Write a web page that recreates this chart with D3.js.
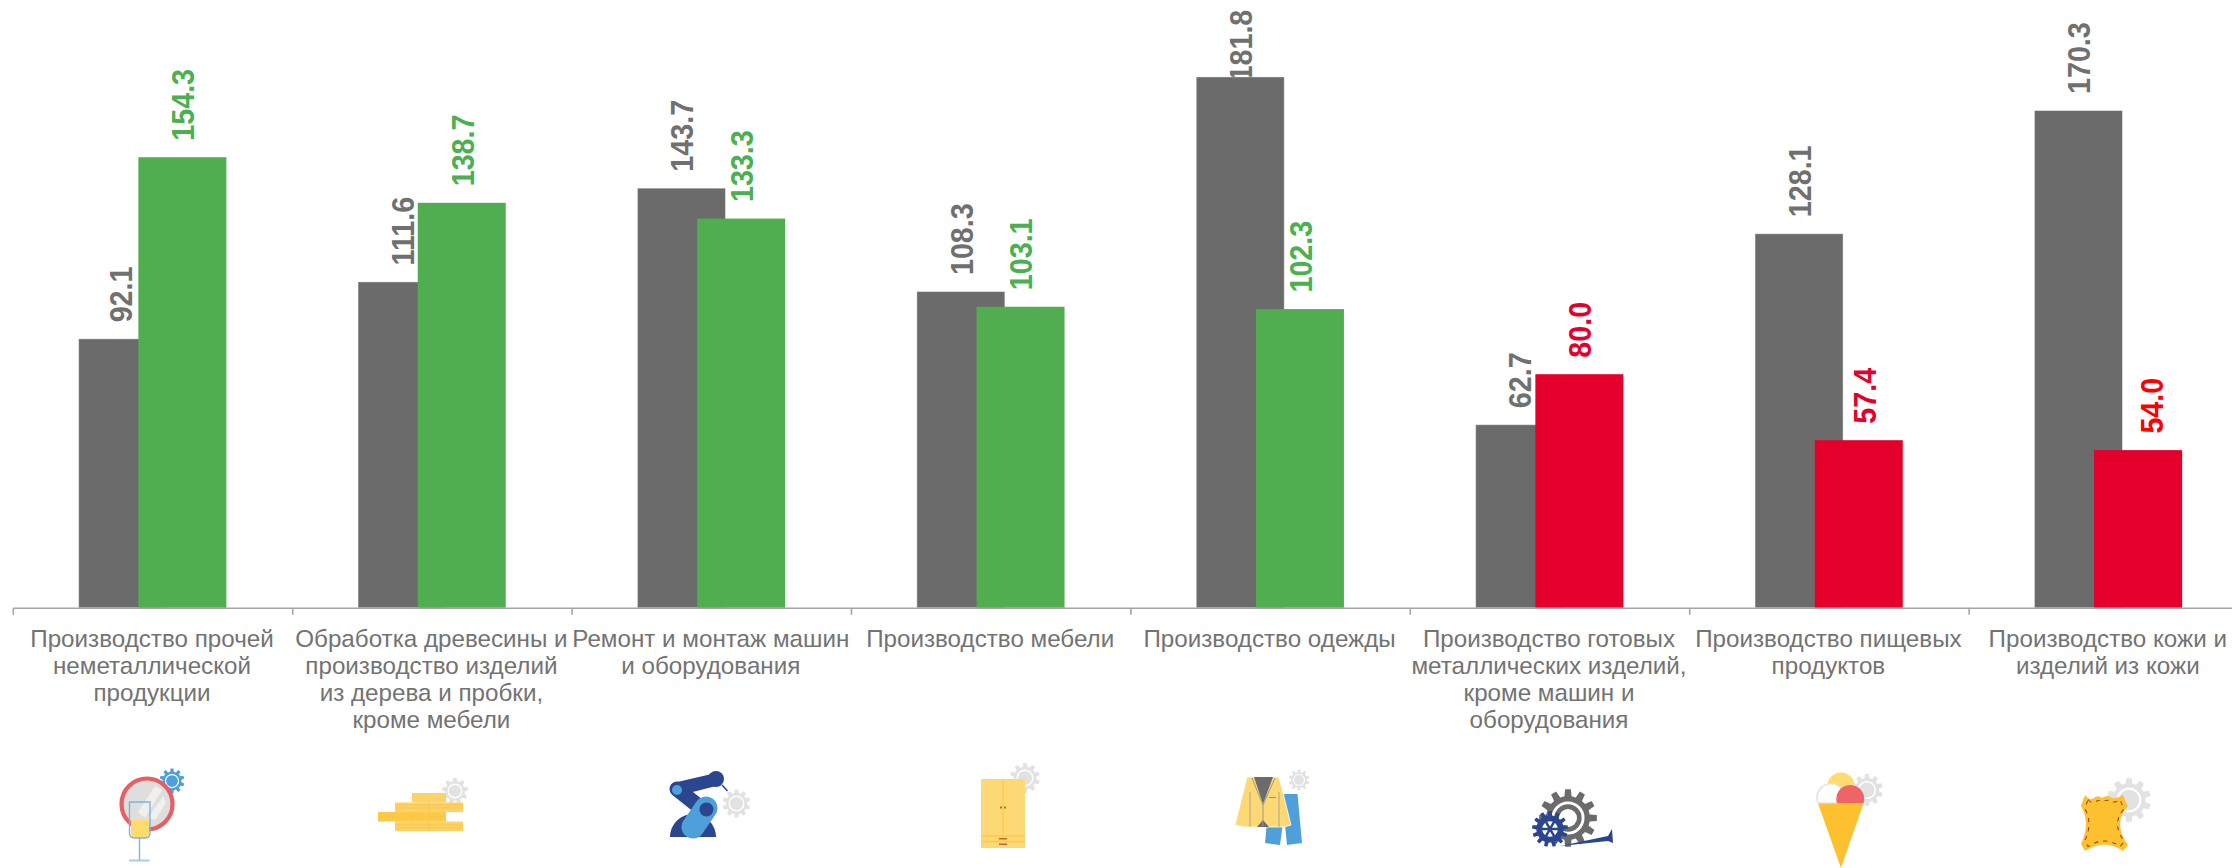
<!DOCTYPE html>
<html>
<head>
<meta charset="utf-8">
<script src="https://cdn.jsdelivr.net/npm/d3@7"></script>
<style>
html, body { margin: 0; padding: 0; background: #fff; overflow: hidden; }
svg { display: block; font-family: "Liberation Sans", Arial, sans-serif; }
</style>
</head>
<body>
<svg id="chart" width="2232" height="868"></svg>
<script>
var categories = [
	["Производство прочей", "неметаллической", "продукции"],
	["Обработка древесины и", "производство изделий", "из дерева и пробки,", "кроме мебели"],
	["Ремонт и монтаж машин", "и оборудования"],
	["Производство мебели"],
	["Производство одежды"],
	["Производство готовых", "металлических изделий,", "кроме машин и", "оборудования"],
	["Производство пищевых", "продуктов"],
	["Производство кожи и", "изделий из кожи"]
];
var previous = [92.1, 111.6, 143.7, 108.3, 181.8, 62.7, 128.1, 170.3];
var current = [154.3, 138.7, 133.3, 103.1, 102.3, 80.0, 57.4, 54.0];

var grey = "#6b6b6b", green = "#50ae50", greenText = "#4bb04f", red = "#e4002b";
var barWidth = 88, barStep = 59.7;
var baseY = 607.8;

var svg = d3.select("#chart");

var edges = d3.scaleLinear().domain([0, 8]).range([12.8, 12.8 + 8 * 279.4]);
var x = d3.scaleBand().domain(d3.range(8)).range(edges.range());
var y = d3.scaleLinear().domain([0, 200]).range([baseY, baseY - 584]);

function colorOf(v) { return v >= 100 ? green : red; }
function textColorOf(v) {
	if (v == 54) return "#ff0000"; // this one label is pure red in the original
	return v >= 100 ? greenText : red;
}
function center(i) { return x(i) + x.bandwidth() / 2; }
function greyX(i) { return center(i) - 73.85; }
function curX(i) { return greyX(i) + barStep; }

// a few labels were moved sideways by hand in the original
var labelNudge = { "92.1": -2.5, "57.4": 5.2, "54.0": 13.2 };

// value labels sit under the bars, the tallest one runs into its bar
function valueLabels(values, xFn, colorFn) {
	svg.append("g").selectAll("text").data(values).enter().append("text")
		.attr("transform", function(d, i) {
			var ly = Math.max(y(d) - 16.5, 81.5);
			var lx = xFn(i) + barWidth / 2 + 11.8 + (labelNudge[d.toFixed(1)] || 0);
			return "translate(" + lx + "," + ly + ") rotate(-90) scale(1,1.07)";
		})
		.attr("font-size", 28.7)
		.attr("font-weight", "bold")
		.attr("fill", colorFn)
		.text(function(d) { return d.toFixed(1); });
}
valueLabels(previous, greyX, function() { return "#707070"; });
valueLabels(current, curX, textColorOf);

svg.append("g").selectAll("rect").data(previous).enter().append("rect")
	.attr("x", function(d, i) { return greyX(i); })
	.attr("y", function(d) { return y(d); })
	.attr("width", barWidth)
	.attr("height", function(d) { return baseY - y(d); })
	.attr("fill", grey)
	.attr("stroke", "rgba(255,255,255,0.4)")
	.attr("stroke-width", 1);

svg.append("g").selectAll("rect").data(current).enter().append("rect")
	.attr("x", function(d, i) { return curX(i); })
	.attr("y", function(d) { return y(d); })
	.attr("width", barWidth)
	.attr("height", function(d) { return baseY - y(d); })
	.attr("fill", colorOf);

var axis = svg.append("g")
	.attr("transform", "translate(0," + baseY + ")")
	.call(d3.axisBottom(edges).tickValues(d3.range(9)).tickSize(7).tickSizeOuter(0).tickFormat(""));
axis.selectAll("path, line").attr("stroke", "#a6a6a6").attr("stroke-width", 1.6);

var labels = svg.append("g").selectAll("text").data(categories).enter().append("text")
	.attr("text-anchor", "middle")
	.attr("font-size", 24.2)
	.attr("fill", "#737373");
labels.selectAll("tspan").data(function(d) { return d; }).enter().append("tspan")
	.attr("x", function() { return center(categories.indexOf(this.parentNode.__data__)) - 0.5; })
	.attr("y", function(d, i) { return 646.5 + i * 27.3; })
	.text(function(d) { return d; });

// ---- icons ----
var icons = svg.append("g");

function gear(cx, cy, r, color, teeth, ringColor) {
	teeth = teeth || 10;
	var inner = r * 0.76, pts = [];
	for (var i = 0; i < teeth; i++) {
		var a = i / teeth * 2 * Math.PI, s = Math.PI / teeth;
		pts.push([inner, a - s * 0.62], [r, a - s * 0.38], [r, a + s * 0.38], [inner, a + s * 0.62]);
	}
	var g = icons.append("g").attr("transform", "translate(" + cx + "," + cy + ")");
	g.append("path")
		.attr("d", d3.lineRadial().radius(function(p) { return p[0]; }).angle(function(p) { return p[1]; }).curve(d3.curveLinearClosed)(pts))
		.attr("fill", color);
	g.append("circle").attr("r", r * 0.52).attr("fill", "none").attr("stroke", ringColor || "#fff").attr("stroke-width", r * 0.1);
	return g;
}

function rect(x0, y0, x1, y1, fill) {
	return icons.append("rect").attr("x", x0).attr("y", y0).attr("width", x1 - x0).attr("height", y1 - y0).attr("fill", fill);
}
function line(x0, y0, x1, y1, color, w) {
	return icons.append("line").attr("x1", x0).attr("y1", y0).attr("x2", x1).attr("y2", y1)
		.attr("stroke", color).attr("stroke-width", w);
}
function path(d, fill) {
	return icons.append("path").attr("d", d).attr("fill", fill);
}

// mirror and glass
gear(172, 781, 12.5, "#4f9fdb", 10);
icons.append("circle").attr("cx", 147).attr("cy", 804).attr("r", 25.5)
	.attr("fill", "#dfdedd").attr("stroke", "#e85f63").attr("stroke-width", 4.2);
path("M138 812L155 786L162 790L145 818Z", "#f1f0ef");
path("M148 818L163 796L166 803L155 820Z", "#f1f0ef");
path("M131 820H149V833Q149 838 144 838H136Q131 838 131 833Z", "#fddb6e");
icons.append("path").attr("d", "M129.5 802H150V833Q150 838 145 838H134.5Q129.5 838 129.5 833Z")
	.attr("fill", "none").attr("stroke", "#7fb2dd").attr("stroke-width", 1.4);
line(139.5, 838, 139.5, 860, "#7fb2dd", 1.4);
line(129, 860.5, 149.5, 860.5, "#a9cde9", 2);

// wood
gear(455, 791, 13, "#e2e2e2", 9);
rect(412, 793, 446, 802.5, "#fdd266");
rect(395, 802.5, 463, 812, "#fdd266");
rect(378, 812, 446, 821.5, "#fdc94a");
rect(395, 821.5, 463, 831, "#fdd266");
[[395, 805, 463, 805], [395, 808, 463, 808], [395, 825, 463, 825], [395, 828, 463, 828], [378, 817, 446, 817],
 [429, 802, 429, 812], [412, 812, 412, 821], [429, 821, 429, 831]].forEach(function(l) {
	line(l[0], l[1], l[2], l[3], "#fcbf3a", 0.7);
});

// robot arm
gear(736.5, 803.5, 14, "#e2e2e2", 10);
path("M670 837A23 23 0 0 1 716 837Z", "#2b458f");
line(677, 789, 706, 812, "#2b458f", 15).attr("stroke-linecap", "round");
path("M673 783L716 773L720 785L681 795Z", "#2b458f");
icons.append("circle").attr("cx", 716).attr("cy", 779).attr("r", 8).attr("fill", "#2b458f");
line(722, 785, 727.5, 791, "#2b458f", 1.6);
icons.append("circle").attr("cx", 677).attr("cy", 790).attr("r", 5).attr("fill", "#4f9fdb");
line(693, 827, 706, 808, "#4f9fdb", 23).attr("stroke-linecap", "round");
icons.append("circle").attr("cx", 706.5).attr("cy", 809.5).attr("r", 7).attr("fill", "#2b458f");

// wardrobe
gear(1025, 778, 15, "#e2e2e2", 10);
rect(981, 779, 1025, 848, "#fdd976");
line(1003, 779, 1003, 835, "#fdc94a", 1.2);
line(981, 836, 1025, 836, "#fdc94a", 1.6);
line(981, 841.5, 1025, 841.5, "#fdc94a", 1.6);
rect(1000, 806.5, 1002, 808.5, "#b9682e");
rect(1004, 806.5, 1006, 808.5, "#b9682e");
rect(999, 838, 1007, 839.5, "#b9682e");
rect(999, 843.5, 1007, 845, "#b9682e");

// suit
gear(1299, 780, 10.5, "#e2e2e2", 10);
path("M1285 794H1297.5L1302 843L1287 845L1284 815L1280 845L1265 843L1269 800Z", "#4f9fdb");
path("M1247 777H1279L1291 825L1284 827L1281 827H1247L1244 827L1235 825Z", "#fdd976")
	.attr("stroke", "#fff").attr("stroke-width", 0.8);
path("M1254 777H1273L1263 804Z", "#6b6b6b");
path("M1257 827L1263 820L1269 827Z", "#6b6b6b");
line(1252, 778, 1263, 805, "#9a9a8a", 1);
line(1275, 778, 1263, 805, "#9a9a8a", 1);
line(1263, 805, 1263, 826, "#9a9a8a", 1);
line(1250, 792, 1250, 827, "#9a9a8a", 0.8);
line(1279, 792, 1279, 827, "#9a9a8a", 0.8);
line(1269, 797.5, 1276, 797.5, "#9a9a8a", 1.2);

// metal products
gear(1568, 818, 29, grey, 12);
icons.append("circle").attr("cx", 1568).attr("cy", 818).attr("r", 9).attr("fill", "#fff");
path("M1560 846L1608 836L1612 829L1613 843L1608 841Z", "#2b458f");
var small = gear(1550, 829, 18, "#2b458f", 13, "#2b458f");
small.select("circle").attr("fill", "#fff").attr("stroke-width", 3);
[0, 60, 120].forEach(function(a) {
	small.append("line").attr("x1", -13).attr("x2", 13).attr("transform", "rotate(" + a + ")")
		.attr("stroke", "#2b458f").attr("stroke-width", 2.5);
});

// ice cream
gear(1867, 790, 16, "#e2e2e2", 10);
icons.append("circle").attr("cx", 1841).attr("cy", 786).attr("r", 13.5).attr("fill", "#fddb6e");
path("M1818 803A14 14 0 1 1 1844 803Z", "#fff").attr("stroke", "#e2e2e2").attr("stroke-width", 1.6);
path("M1837 803.5A14 14 0 1 1 1863.5 803.5Z", "#ee6469");
path("M1818 803.5H1863.5L1841 868Z", "#fdc02f");

// leather
gear(2129, 800, 22, "#e2e2e2", 10);
var leatherD = "M2085 795Q2089 800 2092 799Q2098 794 2102 798Q2108 794 2112 798Q2118 799 2123 795Q2126 803 2128 806Q2112 823 2128 845L2123 851Q2105 838 2085 851L2081 844Q2091 823 2081 806Q2083 800 2085 795Z";
path(leatherD, "#fdc02f");
icons.append("path").attr("d", leatherD)
	.attr("transform", "translate(2104.5,823) scale(0.84) translate(-2104.5,-823)")
	.attr("fill", "none").attr("stroke", "#a0451a").attr("stroke-width", 1.3).attr("stroke-dasharray", "5 6");
</script>
</body>
</html>
